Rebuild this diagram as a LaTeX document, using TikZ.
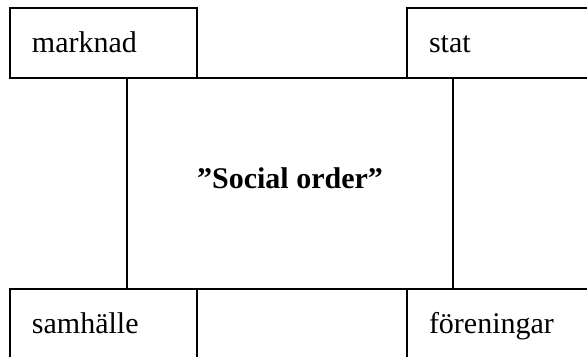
\documentclass[tikz,border=0pt]{standalone}
\usepackage{fontspec}
\setmainfont{Liberation Serif}
\usetikzlibrary{positioning}

\begin{document}
\begin{tikzpicture}[
  font=\fontsize{12pt}{14pt}\selectfont,
  cell/.style={rectangle,draw=black,line width=0.75pt,outer sep=0pt,minimum width=74.8pt,minimum height=28pt,
               text width=57.2pt,inner xsep=8.8pt,align=left,text height=10pt,text depth=2.8pt},
  core/.style={rectangle,draw=black,line width=0.75pt,outer sep=0pt,minimum width=130.4pt,minimum height=84.4pt,
               align=center,font=\fontsize{12pt}{14pt}\selectfont\bfseries,text height=8pt,text depth=4pt},
]
\useasboundingbox (-116pt,-69pt) rectangle (118.8pt,73.4pt);
\clip (-116pt,-69pt) rectangle (118.8pt,73.4pt);
% ===== centre =====
\node[core] (social) at (0,0) {”Social order”};

% ===== top row =====
\node[cell,anchor=south east] (marknad) at ([xshift=28pt]social.north west) {marknad};
\node[cell,anchor=south west] (stat) at ([xshift=-18.4pt]social.north east) {stat};

% ===== bottom row =====
\node[cell,anchor=north east] (samhalle) at ([xshift=28pt]social.south west) {samhälle};
\node[cell,anchor=north west] (foreningar) at ([xshift=-18.4pt]social.south east) {föreningar};
\end{tikzpicture}
\end{document}
